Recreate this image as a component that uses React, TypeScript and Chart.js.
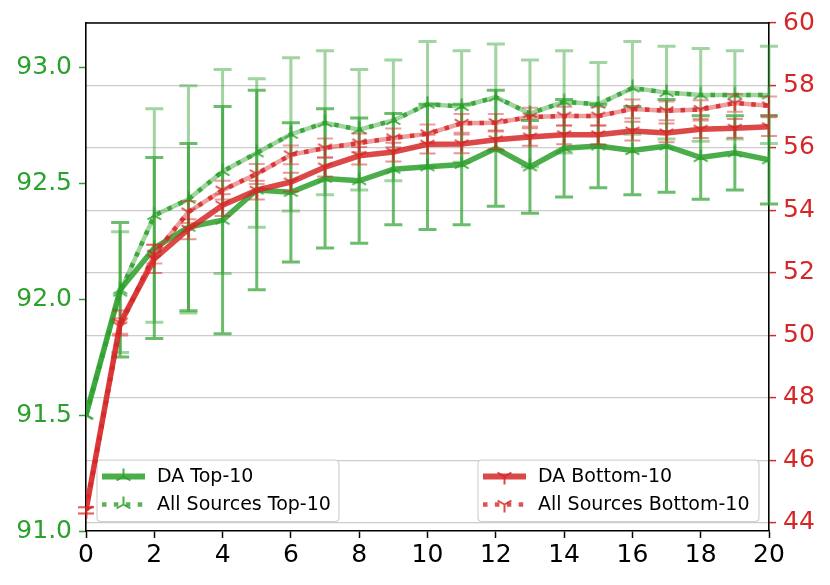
import React, { useEffect, useRef } from "react";
import { Chart, registerables } from "chart.js";

Chart.register(...registerables);

const epochs = [0, 1, 2, 3, 4, 5, 6, 7, 8, 9, 10, 11, 12, 13, 14, 15, 16, 17, 18, 19, 20];

const daTop = [91.5, 92.04, 92.22, 92.31, 92.34, 92.47, 92.46, 92.52, 92.51, 92.56, 92.57, 92.58, 92.65, 92.57, 92.65, 92.66, 92.64, 92.66, 92.61, 92.63, 92.6];
const daTopErr = [0, 0.29, 0.39, 0.36, 0.49, 0.43, 0.3, 0.3, 0.27, 0.24, 0.27, 0.26, 0.25, 0.2, 0.21, 0.18, 0.19, 0.2, 0.18, 0.16, 0.19];

const allTop = [91.5, 92.03, 92.36, 92.43, 92.55, 92.63, 92.71, 92.76, 92.73, 92.77, 92.84, 92.83, 92.87, 92.8, 92.85, 92.84, 92.91, 92.89, 92.88, 92.88, 92.88];
const allTopErr = [0, 0.26, 0.46, 0.49, 0.44, 0.32, 0.33, 0.31, 0.26, 0.26, 0.27, 0.24, 0.23, 0.23, 0.22, 0.18, 0.2, 0.2, 0.2, 0.19, 0.21];

const daBottom = [44.4, 50.4, 52.45, 53.4, 54.17, 54.65, 54.91, 55.39, 55.75, 55.87, 56.12, 56.13, 56.26, 56.35, 56.42, 56.42, 56.54, 56.48, 56.6, 56.63, 56.68];
const daBottomErr = [0.1, 0.4, 0.45, 0.32, 0.35, 0.3, 0.3, 0.3, 0.28, 0.3, 0.3, 0.3, 0.3, 0.28, 0.3, 0.3, 0.3, 0.3, 0.28, 0.3, 0.3];

const allBottom = [44.4, 50.3, 52.6, 53.95, 54.65, 55.17, 55.78, 56.0, 56.16, 56.32, 56.45, 56.79, 56.81, 56.99, 57.02, 57.02, 57.25, 57.19, 57.23, 57.44, 57.35];
const allBottomErr = [0.1, 0.25, 0.3, 0.35, 0.3, 0.32, 0.3, 0.3, 0.3, 0.3, 0.3, 0.3, 0.28, 0.3, 0.3, 0.3, 0.3, 0.3, 0.3, 0.28, 0.3];

const xTicks = [0, 2, 4, 6, 8, 10, 12, 14, 16, 18, 20];
const leftTicks = [91.0, 91.5, 92.0, 92.5, 93.0];
const rightTicks = [44, 46, 48, 50, 52, 54, 56, 58, 60];

const legendLeft = ["DA Top-10", "All Sources Top-10"];
const legendRight = ["DA Bottom-10", "All Sources Bottom-10"];

const G = "44,160,44";
const R = "214,39,40";
const rgba = (c: string, a: number) => `rgba(${c},${a})`;
const FONT = "DejaVu Sans";

function makeTri(color: string, down: boolean, size = 17, lw = 2): HTMLCanvasElement {
  const c = document.createElement("canvas");
  c.width = size;
  c.height = size;
  const ctx = c.getContext("2d")!;
  const cx = size / 2;
  const cy = size / 2;
  const r = size / 2 - 0.5;
  ctx.strokeStyle = color;
  ctx.lineWidth = lw;
  const angles = down ? [90, 210, 330] : [270, 30, 150];
  ctx.beginPath();
  for (const a of angles) {
    const t = (a * Math.PI) / 180;
    ctx.moveTo(cx, cy);
    ctx.lineTo(cx + r * Math.cos(t), cy + r * Math.sin(t));
  }
  ctx.stroke();
  return c;
}

function drawErr(chart: any, ds: any) {
  const ctx = chart.ctx;
  const xs = chart.scales.x;
  const ys = chart.scales[ds.yAxisID];
  ctx.save();
  ctx.strokeStyle = ds.errColor;
  ctx.lineWidth = ds.errWidth;
  ctx.setLineDash([]);
  const cap = ds.capHalf;
  ctx.beginPath();
  ds.data.forEach((p: any, i: number) => {
    const e = ds.errors[i];
    if (!e) return;
    const px = xs.getPixelForValue(p.x);
    const y1 = ys.getPixelForValue(p.y - e);
    const y2 = ys.getPixelForValue(p.y + e);
    ctx.moveTo(px, y1);
    ctx.lineTo(px, y2);
    ctx.moveTo(px - cap, y1);
    ctx.lineTo(px + cap, y1);
    ctx.moveTo(px - cap, y2);
    ctx.lineTo(px + cap, y2);
  });
  ctx.stroke();
  ctx.restore();
}

function roundRect(ctx: CanvasRenderingContext2D, x: number, y: number, w: number, h: number, r: number) {
  ctx.beginPath();
  ctx.moveTo(x + r, y);
  ctx.lineTo(x + w - r, y);
  ctx.quadraticCurveTo(x + w, y, x + w, y + r);
  ctx.lineTo(x + w, y + h - r);
  ctx.quadraticCurveTo(x + w, y + h, x + w - r, y + h);
  ctx.lineTo(x + r, y + h);
  ctx.quadraticCurveTo(x, y + h, x, y + h - r);
  ctx.lineTo(x, y + r);
  ctx.quadraticCurveTo(x, y, x + r, y);
  ctx.closePath();
}

type Entry = { label: string; color: string; dotted: boolean; marker: HTMLCanvasElement };

function drawLegend(ctx: CanvasRenderingContext2D, x: number, y: number, w: number, h: number, entries: Entry[]) {
  ctx.save();
  roundRect(ctx, x, y, w, h, 4);
  ctx.fillStyle = "rgba(255,255,255,0.8)";
  ctx.fill();
  ctx.strokeStyle = "rgba(204,204,204,0.9)";
  ctx.lineWidth = 1.2;
  ctx.stroke();
  entries.forEach((e, i) => {
    const cy = y + 16.5 + i * 28;
    const x0 = x + 5;
    const x1 = x + 48;
    ctx.beginPath();
    ctx.moveTo(x0, cy);
    ctx.lineTo(x1, cy);
    ctx.strokeStyle = e.color;
    if (e.dotted) {
      ctx.lineWidth = 4.5;
      ctx.setLineDash([4.5, 7.4]);
    } else {
      ctx.lineWidth = 6;
      ctx.setLineDash([]);
    }
    ctx.stroke();
    ctx.setLineDash([]);
    const mx = (x0 + x1) / 2;
    ctx.drawImage(e.marker, mx - e.marker.width / 2, cy - e.marker.height / 2);
    ctx.fillStyle = "#000";
    ctx.font = `19px "${FONT}"`;
    ctx.textBaseline = "middle";
    ctx.textAlign = "left";
    ctx.fillText(e.label, x + 60, cy + 1);
  });
  ctx.restore();
}

export default function App() {
  const ref = useRef<HTMLCanvasElement | null>(null);

  useEffect(() => {
    if (!ref.current) return;
    const triG = makeTri(rgba(G, 0.85), false);
    const triR = makeTri(rgba(R, 0.85), true);

    const pts = (arr: number[]) => epochs.map((x, i) => ({ x, y: arr[i] }));

    const leftEntries: Entry[] = [
      { label: legendLeft[0], color: rgba(G, 0.85), dotted: false, marker: triG },
      { label: legendLeft[1], color: rgba(G, 0.8), dotted: true, marker: triG },
    ];
    const rightEntries: Entry[] = [
      { label: legendRight[0], color: rgba(R, 0.85), dotted: false, marker: triR },
      { label: legendRight[1], color: rgba(R, 0.8), dotted: true, marker: triR },
    ];

    const plugin = {
      id: "customDraw",
      beforeDatasetDraw(chart: any, args: any) {
        const ds = chart.data.datasets[args.index];
        const a = chart.chartArea;
        if (ds.leftLegendBefore) {
          drawLegend(chart.ctx, a.left + 11, a.bottom - 71, 242, 61.5, leftEntries);
        }
        if (ds.errors) drawErr(chart, ds);
      },
      afterDatasetsDraw(chart: any) {
        const a = chart.chartArea;
        drawLegend(chart.ctx, a.right - 291, a.bottom - 71, 281, 61.5, rightEntries);
        const ctx = chart.ctx;
        ctx.save();
        ctx.strokeStyle = "#000";
        ctx.lineWidth = 1.6;
        ctx.beginPath();
        ctx.moveTo(a.left - 0.8, a.top);
        ctx.lineTo(a.right + 0.8, a.top);
        ctx.stroke();
        ctx.restore();
      },
    };

    const chart = new Chart(ref.current, {
      type: "line",
      data: {
        datasets: [
          {
            label: "All Sources Top-10 band",
            data: pts(allTop),
            yAxisID: "yL",
            borderColor: rgba(G, 0.45),
            borderWidth: 4.5,
            pointStyle: triG as any,
            pointRadius: 8,
            errors: allTopErr,
            errColor: rgba(G, 0.45),
            errWidth: 3,
            capHalf: 9,
            order: 7,
          } as any,
          {
            label: "All Sources Top-10",
            data: pts(allTop),
            yAxisID: "yL",
            borderColor: rgba(G, 0.85),
            borderWidth: 4.5,
            borderDash: [4.5, 7.4],
            pointRadius: 0,
            order: 6,
          } as any,
          {
            label: "DA Top-10",
            data: pts(daTop),
            yAxisID: "yL",
            borderColor: rgba(G, 0.85),
            borderWidth: 5.5,
            pointStyle: triG as any,
            pointRadius: 8,
            errors: daTopErr,
            errColor: rgba(G, 0.7),
            errWidth: 3,
            capHalf: 9,
            order: 5,
          } as any,
          {
            label: "DA Bottom-10",
            data: pts(daBottom),
            yAxisID: "yR",
            borderColor: rgba(R, 0.85),
            borderWidth: 5.5,
            pointStyle: triR as any,
            pointRadius: 8,
            errors: daBottomErr,
            errColor: rgba(R, 0.5),
            errWidth: 2,
            capHalf: 8,
            leftLegendBefore: true,
            order: 3,
          } as any,
          {
            label: "All Sources Bottom-10 band",
            data: pts(allBottom),
            yAxisID: "yR",
            borderColor: rgba(R, 0.45),
            borderWidth: 4.5,
            pointStyle: triR as any,
            pointRadius: 8,
            errors: allBottomErr,
            errColor: rgba(R, 0.45),
            errWidth: 2,
            capHalf: 8,
            order: 2,
          } as any,
          {
            label: "All Sources Bottom-10",
            data: pts(allBottom),
            yAxisID: "yR",
            borderColor: rgba(R, 0.85),
            borderWidth: 4.5,
            borderDash: [4.5, 7.4],
            pointRadius: 0,
            order: 1,
          } as any,
        ],
      },
      options: {
        animation: false,
        responsive: false,
        devicePixelRatio: window.devicePixelRatio || 1,
        layout: { padding: { top: 23, left: 0, right: 0, bottom: 0 } },
        elements: { line: { tension: 0, fill: false } },
        plugins: { legend: { display: false }, tooltip: { enabled: false } },
        scales: {
          x: {
            type: "linear",
            min: 0,
            max: 20,
            afterBuildTicks: (s: any) => {
              s.ticks = xTicks.map((v) => ({ value: v }));
            },
            afterFit: (s: any) => {
              s.height = 54;
            },
            ticks: { color: "#000", font: { family: FONT, size: 25 }, padding: 2, maxRotation: 0 },
            grid: { display: true, drawOnChartArea: false, drawTicks: true, tickLength: 7, tickColor: "#000", tickWidth: 1.5, color: "#000" },
            border: { display: true, color: "#000", width: 1.6 },
          },
          yL: {
            type: "linear",
            position: "left",
            min: 91.0,
            max: 93.19,
            afterBuildTicks: (s: any) => {
              s.ticks = leftTicks.map((v) => ({ value: v }));
            },
            afterFit: (s: any) => {
              s.width = 86;
            },
            ticks: {
              color: "rgb(44,160,44)",
              font: { family: FONT, size: 25 },
              padding: 7,
              callback: (v: any) => Number(v).toFixed(1),
            },
            grid: { display: true, drawOnChartArea: false, drawTicks: true, tickLength: 7, tickColor: "rgb(44,160,44)", tickWidth: 1.5 },
            border: { display: true, color: "#000", width: 1.6 },
          },
          yR: {
            type: "linear",
            position: "right",
            min: 43.74,
            max: 60,
            afterBuildTicks: (s: any) => {
              s.ticks = rightTicks.map((v) => ({ value: v }));
            },
            afterFit: (s: any) => {
              s.width = 61;
            },
            ticks: {
              color: "rgb(214,39,40)",
              font: { family: FONT, size: 25 },
              padding: 7,
              callback: (v: any) => String(v),
            },
            grid: {
              display: true,
              drawOnChartArea: true,
              drawTicks: true,
              tickLength: 7,
              tickColor: "rgb(214,39,40)",
              tickWidth: 1.5,
              color: "rgba(170,170,170,0.6)",
              lineWidth: 1.2,
            },
            border: { display: true, color: "#000", width: 1.6 },
          },
        },
      } as any,
      plugins: [plugin],
    });

    return () => chart.destroy();
  }, []);

  return (
    <div style={{ position: "absolute", left: 0, top: 0, width: 830, height: 585, background: "#fff" }}>
      <canvas ref={ref} width={830} height={585} style={{ width: 830, height: 585 }} />
    </div>
  );
}
